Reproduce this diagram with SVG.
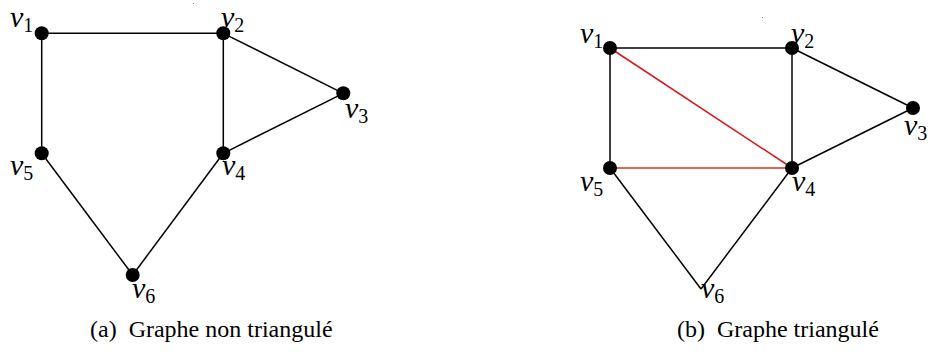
<svg xmlns="http://www.w3.org/2000/svg" width="936" height="356" viewBox="0 0 936 356">
<style>
.e{stroke:#000;stroke-width:1.5;fill:none}
.r1{stroke:#d9161a;stroke-width:1.5;fill:none}
.r2{stroke:#d6341a;stroke-width:1.5;fill:none}
.n{fill:#000}
.lb{font-family:"Liberation Serif",serif;font-style:italic;font-size:30px;fill:#000}
.sb{font-style:normal;font-size:20px}
.cap{font-family:"Liberation Serif",serif;font-size:24px;fill:#000}
.dot{fill:#888}
</style>
<rect width="936" height="356" fill="#fff"/>
<rect class="dot" x="193" y="3" width="1" height="1"/>
<rect class="dot" x="762" y="17" width="1" height="1"/>
<g id="edges">
<line class="e" x1="41.7" y1="33.3" x2="223.3" y2="33.3"/>
<line class="e" x1="41.7" y1="33.3" x2="41.7" y2="153.3"/>
<line class="e" x1="223.3" y1="33.3" x2="223.3" y2="153.3"/>
<line class="e" x1="223.3" y1="33.3" x2="343.3" y2="93.3"/>
<line class="e" x1="343.3" y1="93.3" x2="223.3" y2="153.3"/>
<line class="e" x1="41.7" y1="153.3" x2="132.7" y2="275"/>
<line class="e" x1="223.3" y1="153.3" x2="132.7" y2="275"/>
<line class="e" x1="610" y1="48" x2="792" y2="48"/>
<line class="e" x1="610" y1="48" x2="610" y2="168"/>
<line class="e" x1="792" y1="48" x2="792" y2="168"/>
<line class="e" x1="792" y1="48" x2="913" y2="108"/>
<line class="e" x1="913" y1="108" x2="792" y2="168"/>
<line class="e" x1="610" y1="168" x2="701" y2="289"/>
<line class="e" x1="792" y1="168" x2="701" y2="289"/>
<line class="r1" x1="610" y1="48" x2="792" y2="168"/>
<line class="r2" x1="610" y1="168" x2="792" y2="168"/>
</g>
<g id="a-v1"><circle class="n" cx="41.7" cy="33.3" r="7"/><text class="lb" x="10" y="27">v<tspan class="sb" dy="5">1</tspan></text></g>
<g id="a-v2"><circle class="n" cx="223.3" cy="33.3" r="7"/><text class="lb" x="221" y="27">v<tspan class="sb" dy="5">2</tspan></text></g>
<g id="a-v3"><circle class="n" cx="343.3" cy="93.3" r="7"/><text class="lb" x="345" y="118">v<tspan class="sb" dy="5">3</tspan></text></g>
<g id="a-v4"><circle class="n" cx="223.3" cy="153.3" r="7"/><text class="lb" x="222" y="175">v<tspan class="sb" dy="5">4</tspan></text></g>
<g id="a-v5"><circle class="n" cx="41.7" cy="153.3" r="7"/><text class="lb" x="10" y="175">v<tspan class="sb" dy="5">5</tspan></text></g>
<g id="a-v6"><circle class="n" cx="132.7" cy="275" r="7"/><text class="lb" x="132" y="298">v<tspan class="sb" dy="5">6</tspan></text></g>
<g id="b-v1"><circle class="n" cx="610" cy="48" r="7"/><text class="lb" x="580" y="43">v<tspan class="sb" dy="5">1</tspan></text></g>
<g id="b-v2"><circle class="n" cx="792" cy="48" r="7"/><text class="lb" x="791" y="43">v<tspan class="sb" dy="5">2</tspan></text></g>
<g id="b-v3"><circle class="n" cx="913" cy="108" r="7"/><text class="lb" x="904" y="135">v<tspan class="sb" dy="5">3</tspan></text></g>
<g id="b-v4"><circle class="n" cx="792" cy="168" r="7"/><text class="lb" x="792" y="191">v<tspan class="sb" dy="5">4</tspan></text></g>
<g id="b-v5"><circle class="n" cx="610" cy="168" r="7"/><text class="lb" x="580" y="191">v<tspan class="sb" dy="5">5</tspan></text></g>
<g id="b-v6"><text class="lb" x="701" y="298">v<tspan class="sb" dy="5">6</tspan></text></g>
<g id="captions">
<text class="cap" x="90" y="337" xml:space="preserve">(a)  Graphe non triangulé</text>
<text class="cap" x="677" y="337" xml:space="preserve">(b)  Graphe triangulé</text>
</g>
</svg>
